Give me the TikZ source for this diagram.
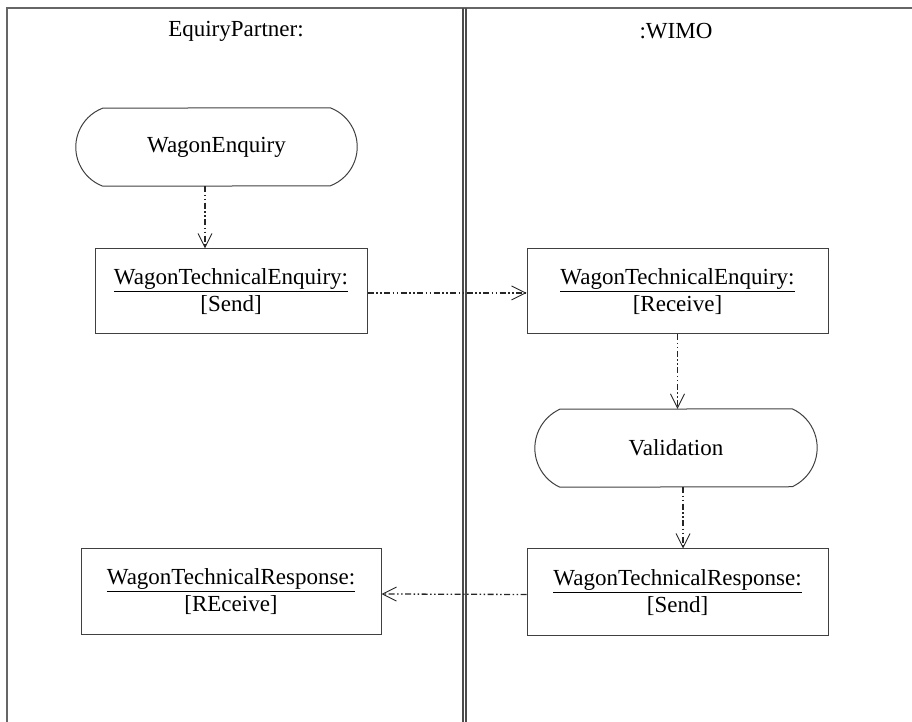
\documentclass[tikz,border=0pt]{standalone}
\usepackage{fontspec}
\setmainfont{Liberation Serif}
\usetikzlibrary{arrows.meta}
\begin{document}
\begin{tikzpicture}[x=1pt,y=1pt,
  every node/.style={font=\fontsize{23}{27}\selectfont, inner sep=0pt},
  lane/.style={draw=black!60, line width=1.6pt},
  divider/.style={draw=black!70, line width=1.1pt},
  objbox/.style={draw=black!75, line width=1pt, rectangle, align=center},
  capsule/.style={rectangle, align=center},
  outline/.style={draw=black!75, line width=1pt},
  flow/.style={draw=black!85, line width=1.3pt,
    dash pattern=on 6pt off 2.5pt on 1.5pt off 2.5pt on 1.5pt off 2.5pt,
    -{Straight Barb[length=14pt,width=14pt,line width=0.9pt]}}]
\useasboundingbox (0,0) rectangle (912,722);

% swimlane frame
\draw[lane] (912,714) -- (7,714) -- (7,0);
\draw[divider] (463,714) -- (463,0);
\draw[divider] (466,714) -- (466,0);

% lane headers
\node (hpartner) at (236,691) {EquiryPartner:};
\node (hwimo) at (676,691) {:WIMO};

% activity states (flat top/bottom, arched sides)
\node[capsule, minimum width=227pt, minimum height=78pt] (we) at (216.5,575) {WagonEnquiry};
\draw[outline] (we.north east) arc[start angle=69.4, end angle=-69.4, radius=41.7pt]
  -- (we.south west) arc[start angle=249.4, end angle=110.6, radius=41.7pt] -- cycle;

\node[capsule, minimum width=232pt, minimum height=78pt] (val) at (676,274) {Validation};
\draw[outline] (val.north east) arc[start angle=65.3, end angle=-65.3, radius=42.9pt]
  -- (val.south west) arc[start angle=245.3, end angle=114.7, radius=42.9pt] -- cycle;

% object flow boxes
\node[objbox, minimum width=272pt, minimum height=85pt] (wtes) at (231,430.5)
  {\underline{WagonTechnicalEnquiry:}\\ {[Send]}};
\node[objbox, minimum width=301pt, minimum height=85pt] (wter) at (677.5,430.5)
  {\underline{WagonTechnicalEnquiry:}\\ {[Receive]}};
\node[objbox, minimum width=300pt, minimum height=86pt] (wtrr) at (231,130)
  {\underline{WagonTechnicalResponse:}\\ {[REceive]}};
\node[objbox, minimum width=301pt, minimum height=87pt] (wtrs) at (677.5,129.5)
  {\underline{WagonTechnicalResponse:}\\ {[Send]}};

% flows
\draw[flow] ([xshift=-11.5pt]we.south) -- ([xshift=-26pt]wtes.north);
\draw[flow] ([yshift=-1.5pt]wtes.east) -- ([yshift=-1.5pt]wter.west);
\draw[flow] (wter.south) -- (wter.south |- val.north);
\draw[flow] ([xshift=7pt]val.south) -- ([xshift=5.5pt]wtrs.north);
\draw[flow] ([yshift=-2pt]wtrs.west) -- ([yshift=-2pt]wtrr.east);
\end{tikzpicture}
\end{document}
